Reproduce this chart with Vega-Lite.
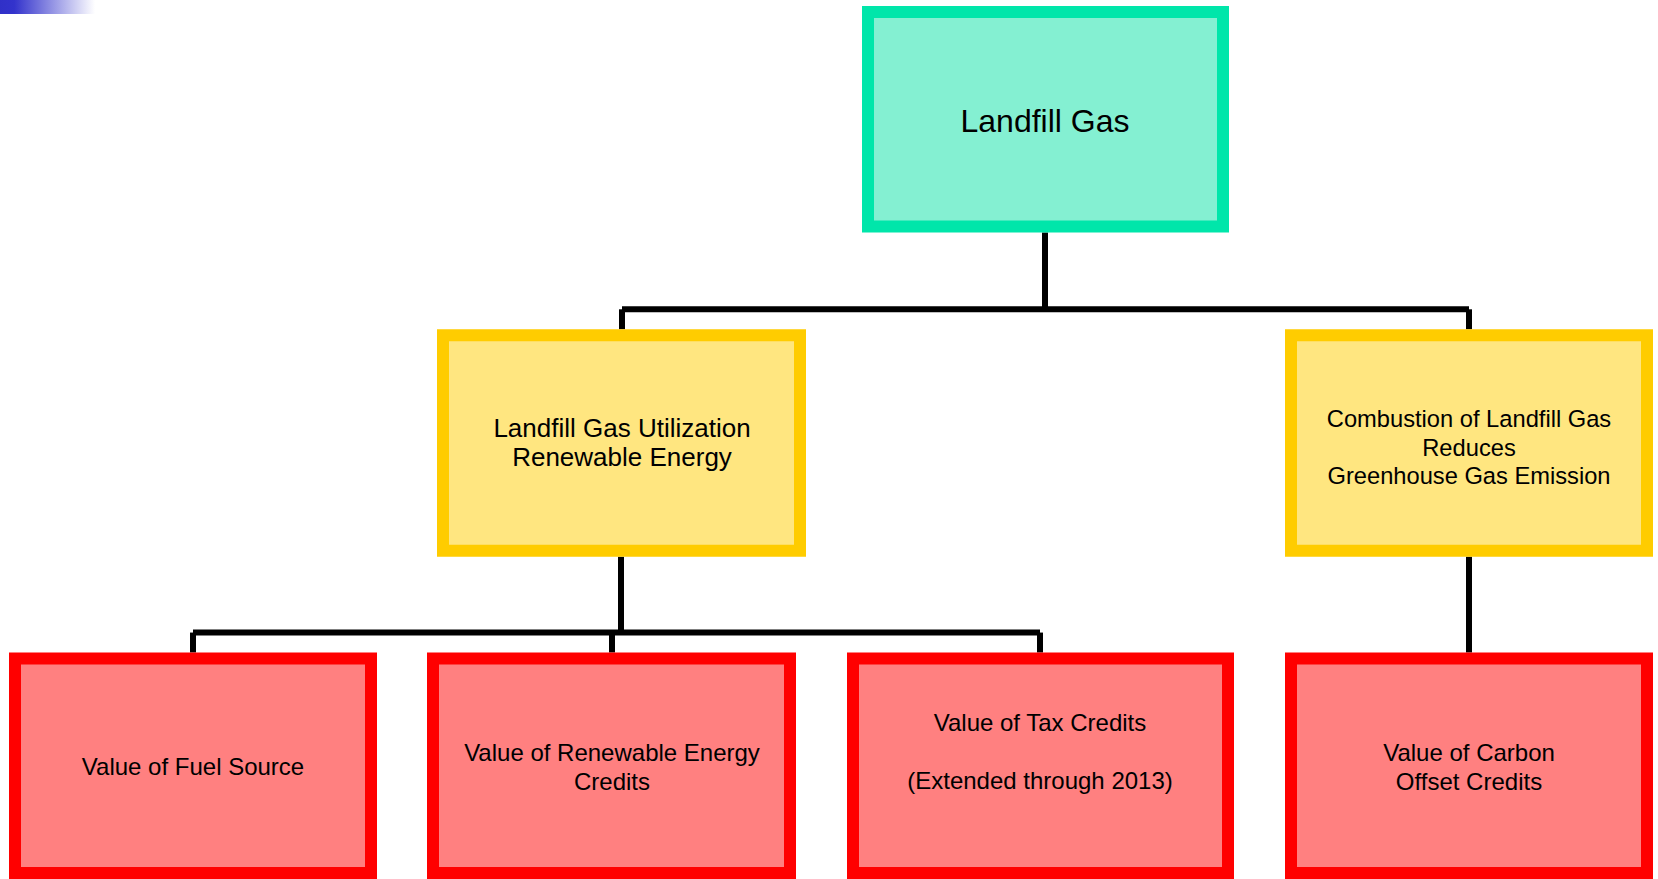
{
  "$schema": "https://vega.github.io/schema/vega-lite/v6.json",
  "width": 1658,
  "height": 879,
  "autosize": {"type": "fit", "contains": "padding"},
  "padding": 0,
  "background": "white",
  "config": {"view": {"stroke": null}, "axis": {"disable": true}},
  "datasets": {
    "boxes": [
      {"id": "root", "level": "top", "x": 868, "x2": 1223, "y": 12, "y2": 227},
      {"id": "util", "level": "mid", "x": 443, "x2": 800, "y": 336, "y2": 552},
      {"id": "comb", "level": "mid", "x": 1291, "x2": 1647, "y": 336, "y2": 552},
      {"id": "fuel", "level": "leaf", "x": 15, "x2": 371, "y": 660, "y2": 875},
      {"id": "rec", "level": "leaf", "x": 433, "x2": 790, "y": 660, "y2": 875},
      {"id": "tax", "level": "leaf", "x": 853, "x2": 1228, "y": 660, "y2": 875},
      {"id": "carbon", "level": "leaf", "x": 1291, "x2": 1647, "y": 660, "y2": 875}
    ],
    "links": [
      {"x": 1045, "x2": 1045, "y": 233, "y2": 310},
      {"x": 622, "x2": 1469, "y": 310, "y2": 310},
      {"x": 622, "x2": 622, "y": 310, "y2": 330},
      {"x": 1469, "x2": 1469, "y": 310, "y2": 330},
      {"x": 621, "x2": 621, "y": 558, "y2": 634},
      {"x": 193, "x2": 1040, "y": 634, "y2": 634},
      {"x": 193, "x2": 193, "y": 634, "y2": 654},
      {"x": 612, "x2": 612, "y": 634, "y2": 654},
      {"x": 1040, "x2": 1040, "y": 634, "y2": 654},
      {"x": 1469, "x2": 1469, "y": 558, "y2": 654}
    ],
    "labels": [
      {"label": "Landfill Gas", "x": 1045, "y": 132, "size": 32},
      {"label": "Landfill Gas Utilization\nRenewable Energy", "x": 622, "y": 438, "size": 26},
      {"label": "Combustion of Landfill Gas\nReduces\nGreenhouse Gas Emission", "x": 1469, "y": 428, "size": 23.7},
      {"label": "Value of Fuel Source", "x": 193, "y": 777, "size": 24},
      {"label": "Value of Renewable Energy\nCredits", "x": 612, "y": 763, "size": 24},
      {"label": "Value of Tax Credits", "x": 1040, "y": 733, "size": 24},
      {"label": "(Extended through 2013)", "x": 1040, "y": 791, "size": 24},
      {"label": "Value of Carbon\nOffset Credits", "x": 1469, "y": 763, "size": 24}
    ],
    "deco": [
      {"x": 0, "x2": 95, "y": 0, "y2": 14}
    ]
  },
  "layer": [
    {
      "data": {"name": "deco"},
      "mark": {
        "type": "rect",
        "color": {
          "gradient": "linear", "x1": 0, "x2": 1, "y1": 0, "y2": 0,
          "stops": [
            {"offset": 0, "color": "#3030c8"},
            {"offset": 0.15, "color": "#3333cc"},
            {"offset": 1, "color": "#ffffff"}
          ]
        }
      },
      "encoding": {
        "x": {"field": "x", "type": "quantitative", "scale": {"domain": [0, 1658], "nice": false, "zero": false}},
        "x2": {"field": "x2"},
        "y": {"field": "y", "type": "quantitative", "scale": {"domain": [0, 879], "nice": false, "zero": false, "reverse": true}},
        "y2": {"field": "y2"}
      }
    },
    {
      "data": {"name": "links"},
      "mark": {"type": "rule", "color": "#000000", "strokeWidth": 6},
      "encoding": {
        "x": {"field": "x", "type": "quantitative", "scale": {"domain": [0, 1658], "nice": false, "zero": false}},
        "x2": {"field": "x2"},
        "y": {"field": "y", "type": "quantitative", "scale": {"domain": [0, 879], "nice": false, "zero": false, "reverse": true}},
        "y2": {"field": "y2"}
      }
    },
    {
      "data": {"name": "boxes"},
      "mark": {"type": "rect", "strokeWidth": 12, "fillOpacity": 1, "strokeJoin": "miter"},
      "encoding": {
        "x": {"field": "x", "type": "quantitative", "scale": {"domain": [0, 1658], "nice": false, "zero": false}},
        "x2": {"field": "x2"},
        "y": {"field": "y", "type": "quantitative", "scale": {"domain": [0, 879], "nice": false, "zero": false, "reverse": true}},
        "y2": {"field": "y2"},
        "fill": {"field": "level", "type": "nominal", "legend": null,
                 "scale": {"domain": ["top", "mid", "leaf"], "range": ["#84f0d2", "#ffe680", "#ff8080"]}},
        "stroke": {"field": "level", "type": "nominal", "legend": null,
                   "scale": {"domain": ["top", "mid", "leaf"], "range": ["#00e6aa", "#ffcc00", "#ff0000"]}}
      }
    },
    {
      "data": {"name": "labels"},
      "mark": {"type": "text", "font": "Liberation Sans", "color": "#000000", "align": "center", "baseline": "alphabetic", "lineBreak": "\n", "lineHeight": 28.5},
      "encoding": {
        "x": {"field": "x", "type": "quantitative", "scale": {"domain": [0, 1658], "nice": false, "zero": false}},
        "y": {"field": "y", "type": "quantitative", "scale": {"domain": [0, 879], "nice": false, "zero": false, "reverse": true}},
        "text": {"field": "label"},
        "size": {"field": "size", "type": "quantitative", "scale": null}
      }
    }
  ]
}
